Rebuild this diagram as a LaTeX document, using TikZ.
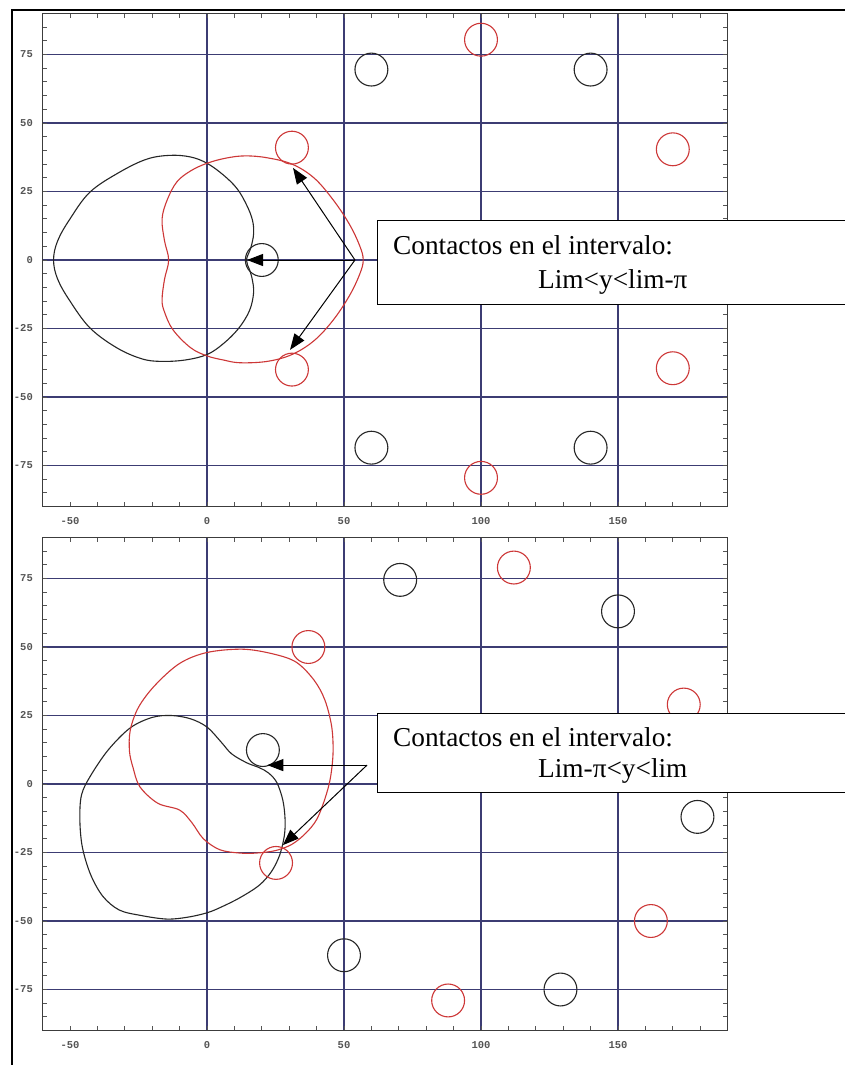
\documentclass[tikz,border=0pt]{standalone}
\usepackage{fontspec}
\setmainfont{Liberation Serif}
\newfontfamily\tickfont{Liberation Mono}
\usetikzlibrary{arrows.meta}
\definecolor{gridc}{RGB}{60,60,115}
\definecolor{redc}{RGB}{205,55,55}
\definecolor{framec}{RGB}{60,60,60}
\definecolor{tickc}{RGB}{85,85,85}
\tikzset{
  gridline/.style={gridc, line width=1.2pt},
  plotframe/.style={framec, line width=1.5pt},
  tickmark/.style={tickc, line width=0.9pt},
  blackcurve/.style={black!85, line width=1.1pt},
  redcurve/.style={redc, line width=1.1pt},
  blackroller/.style={black!85, line width=1.1pt},
  redroller/.style={redc, line width=1.1pt},
  contact/.style={-{Triangle[length=16pt,width=12pt]}, line width=1pt, black},
  labelbox/.style={draw=black, line width=1.3pt, fill=white, inner sep=0pt, anchor=north west},
  boxtext/.style={font=\fontsize{27.3}{30}\selectfont, anchor=base west, inner sep=0pt},
  ticklabel/.style={font=\tickfont\bfseries\fontsize{10.5}{12}\selectfont, text=tickc, inner sep=0pt},
  outerframe/.style={black, line width=2pt},
}
\newcommand\plotaxes[1]{%
  \foreach \gx in {0,50,100,150} \draw[gridline] (\gx,-90) -- (\gx,90);
  \foreach \gy in {-75,-50,-25,0,25,50,75} \draw[gridline] (-60,\gy) -- (190,\gy);
  \foreach \tx in {-50,-40,...,180} {\draw[tickmark] (\tx,-90) -- ++(0,1.8); \draw[tickmark] (\tx,90) -- ++(0,-1.8);}
  \foreach \ty in {-85,-80,...,85} {\draw[tickmark] (-60,\ty) -- ++(1.6,0); \draw[tickmark] (190,\ty) -- ++(-1.6,0);}
  \draw[plotframe] (-60,-90) rectangle (190,90);
  \foreach \tx in {-50,0,50,100,150} \node[ticklabel] (#1x\tx) at (\tx,-95.2) {\tx};
  \foreach \ty in {-75,-50,-25,0,25,50,75} \node[ticklabel, anchor=east] (#1y\ty) at (-63.5,\ty) {\ty};
}
\begin{document}
\begin{tikzpicture}[x=1pt,y=-1pt]
\clip (0,0) rectangle (845,1065);
\fill[white] (0,0) rectangle (845,1065);

% ===================== TOP PLOT =====================
\begin{scope}[shift={(207pt,-260pt)}, x=2.74pt, y=2.74pt]
  \plotaxes{a}
  \draw[blackcurve] plot[smooth cycle, tension=0.6] coordinates {
    (14.4,0) (16,4.5) (17,9.5) (16.6,14.5) (14.5,20) (11,26) (6,31) (0,35.3)
    (-6,37.6) (-13.5,38.2) (-22,36.8) (-32,32) (-42.7,24.8) (-50,15) (-54.5,7) (-56,0)
    (-54.5,-7) (-50,-15) (-42.7,-24.8) (-33,-32) (-24,-36) (-17,-37) (-8,-36.5) (0,-34.5)
    (6,-30.5) (11.5,-25) (15.5,-18.5) (17,-12) (16.5,-7) (15.5,-3.5)};
  \draw[redcurve] plot[smooth cycle, tension=0.6] coordinates {
    (-14,0) (-15.5,7) (-16.4,15) (-14.5,22) (-11,28.5) (-6,32.5) (0,35.3) (7,37.2)
    (14,38) (22,37.3) (31,35) (39,30) (46,22) (52,13) (55.8,5) (57,0)
    (55.8,-5) (52,-13) (46,-22) (39,-29.5) (31,-34.5) (22,-37) (12,-37.5) (6,-36.5)
    (0,-35) (-6,-32) (-12.4,-25.5) (-15.5,-19) (-16.4,-14.5) (-15.5,-7)};
  % rollers
  \foreach \cx/\cy in {60/69.5, 140/69.5, 20/0, 60/-68.5, 140/-68.5}
    \draw[blackroller] (\cx,\cy) circle[radius=6];
  \foreach \cx/\cy in {100/80.4, 170/40.4, 31/41, 31/-40, 170/-39.5, 100/-79.5}
    \draw[redroller] (\cx,\cy) circle[radius=6];
  % contact arrows
  \coordinate (a0) at (54,0);
  \coordinate (a1) at (31.4,33.6);
  \coordinate (a2) at (14.6,0);
  \coordinate (a3) at (30.3,-32.8);
  \draw[contact] (a0) -- (a1);
  \draw[contact] (a0) -- (a2);
  \draw[contact] (a0) -- (a3);
\end{scope}

\node[labelbox, minimum width=500pt, minimum height=84pt] (boxa) at (377,220) {};
\node[boxtext] (boxa1) at (393,254) {Contactos en el intervalo:};
\node[boxtext] (boxa2) at (538,288) {Lim<y<lim-π};

% ===================== BOTTOM PLOT =====================
\begin{scope}[shift={(207pt,-784pt)}, x=2.74pt, y=2.74pt]
  \plotaxes{b}
  \draw[blackcurve] plot[smooth cycle, tension=0.55] coordinates {
    (-42.5,3) (-36,12.5) (-28,20.5) (-20,24.3) (-13,25) (-6,23.8) (0,20.8) (5,15.5)
    (9,11) (14.6,7.7) (19,6) (22.5,4) (25.5,0.5) (27.7,-6) (28.5,-13) (28.2,-19)
    (26.5,-26) (23.5,-32) (19,-37) (12,-41.5) (5,-45) (0,-47) (-7,-48.6) (-14.6,-49.3)
    (-24,-48) (-32,-46) (-38,-41) (-42.5,-33) (-45.5,-23) (-46.4,-13) (-45.8,-4)};
  \draw[redcurve] plot[smooth cycle, tension=0.55] coordinates {
    (-27,6) (-28.3,12) (-28,19.7) (-25,28) (-19,36) (-10,44) (0,48) (13,49.2)
    (24,47.5) (32.5,44.5) (39,38) (43,30.7) (45.5,21) (46,11.3) (45,2) (43,-5.5)
    (40,-13) (36,-18) (31,-22) (25,-24.3) (18,-25.2) (12,-25.2) (4.7,-24) (-1.3,-20)
    (-5.6,-14) (-10,-9.5) (-18,-7) (-24.5,-1)};
  \foreach \cx/\cy in {70.5/74.5, 150/63, 179/-12, 129/-75, 50/-62.5, 20.4/12.4}
    \draw[blackroller] (\cx,\cy) circle[radius=6];
  \foreach \cx/\cy in {37/50, 112/79, 174/29, 162/-50, 88/-79, 25.2/-28.8}
    \draw[redroller] (\cx,\cy) circle[radius=6];
  \coordinate (b0) at (58.4,6.9);
  \coordinate (b1) at (22,6.9);
  \coordinate (b2) at (27.7,-22.3);
  \draw[contact] (b0) -- (b1);
  \draw[contact] (b0) -- (b2);
\end{scope}

\node[labelbox, minimum width=500pt, minimum height=79pt] (boxb) at (377,713) {};
\node[boxtext] (boxb1) at (393,746) {Contactos en el intervalo:};
\node[boxtext] (boxb2) at (538,777) {Lim-π<y<lim};

% outer frame
\coordinate (fa) at (12,1065);
\coordinate (fb) at (12,10);
\coordinate (fc) at (845,10);
\draw[outerframe] (fa) -- (fb) -- (fc);
\end{tikzpicture}
\end{document}
